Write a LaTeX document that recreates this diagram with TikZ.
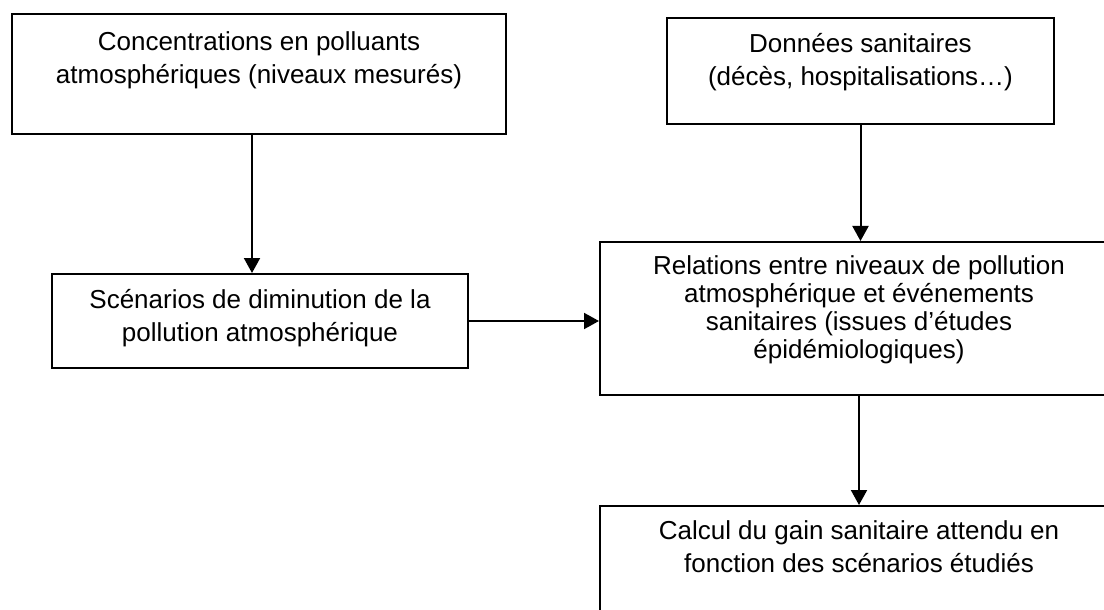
\documentclass[tikz,border=0pt]{standalone}
\usepackage{fontspec}
\setmainfont{Liberation Sans}
\usetikzlibrary{arrows.meta}
\newcommand{\boite}[5][16.5pt]{\parbox[t][#3][t]{#2}{\vspace*{#4}\centering\fontsize{13}{#1}\selectfont #5\par}}

\begin{document}
\begin{tikzpicture}[x=0.5pt, y=-0.5pt, every node/.style={draw, line width=1pt, inner sep=0pt, anchor=north west}, fleche/.style={line width=1pt, -{Triangle[length=7.5pt,width=8pt]}}]
\useasboundingbox (0,0) rectangle (1104,610);
\clip (0,0) rectangle (1104,610);
\node (conc) at (11,13) {\boite{247pt}{60pt}{9pt}{Concentrations en polluants\\atmosphériques (niveaux mesurés)}};
\node (donnees) at (666,17) {\boite{193.5pt}{53pt}{7.5pt}{Données sanitaires\\(décès, hospitalisations…)}};
\node (scen) at (51,273) {\boite{208pt}{47pt}{7.5pt}{Scénarios de diminution de la\\pollution atmosphérique}};
\node (rel) at (599,241) {\boite[14pt]{259pt}{76.5pt}{7pt}{Relations entre niveaux de pollution\\atmosphérique et événements\\sanitaires (issues d’études\\épidémiologiques)}};
\node (calc) at (599,505) {\boite{259pt}{62pt}{7.5pt}{Calcul du gain sanitaire attendu en\\fonction des scénarios étudiés}};
\draw[fleche] ([xshift=-3.5pt]conc.south) -- ([xshift=-3.5pt]conc.south |- scen.north);
\draw[fleche] (donnees.south) -- (donnees.south |- rel.north);
\draw[fleche] (scen.east) -- (scen.east -| rel.west);
\draw[fleche] (rel.south) -- (rel.south |- calc.north);
\end{tikzpicture}
\end{document}
